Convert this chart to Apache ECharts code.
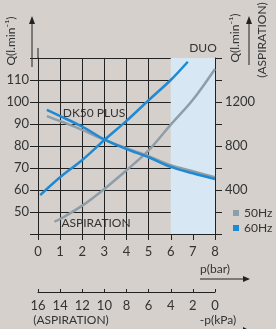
<!DOCTYPE html>
<html>
<head>
<meta charset="utf-8">
<script src="https://cdn.jsdelivr.net/npm/echarts@6/dist/echarts.min.js"></script>
<style>
  html, body { margin: 0; padding: 0; background: #d5d0cc; }
  #chart { width: 276px; height: 329px; }
</style>
</head>
<body>
<div id="chart"></div>
<script>
// p(bar) -> Q(l/min)
var rise60X = [0.1, 1, 2, 3, 4, 5, 6, 6.77];
var rise60Y = [57.7, 65.8, 73.6, 82.7, 91.4, 100.8, 110, 118.3];
var rise50X = [0.74, 1, 2, 3, 4, 5, 6, 7, 8];
var rise50Y = [45.6, 46.8, 52.9, 60.5, 69, 78, 89.7, 101, 115];
var fall60X = [0.4, 1, 2, 3, 4, 5, 6, 7, 8];
var fall60Y = [96.4, 93.6, 88.8, 83, 78.6, 74.9, 70.5, 67.6, 65];
var fall50X = [0.4, 1, 2, 3, 4, 5, 6, 7, 8];
var fall50Y = [93.6, 91.3, 87.3, 82.8, 79, 75.4, 71.3, 68.5, 65.8];

var leftTicks = [50, 60, 70, 80, 90, 100, 110];
var rightTicks = [400, 800, 1200];
var duoBand = [6, 8];

var BG = '#d5d0cc';
var BLUE = '#1f8ad3';
var GREY = '#8e9ea9';
var INK = '#333333';
var LINE = '#222222';
var FONT = 'Lato';

function pairs(xs, ys) {
  var out = [];
  for (var i = 0; i < xs.length; i++) out.push([xs[i], ys[i]]);
  return out;
}

function curve(name, xs, ys, color, z) {
  return {
    name: name,
    type: 'line',
    data: pairs(xs, ys),
    smooth: 0.35,
    symbol: 'none',
    z: z,
    lineStyle: { color: color, width: 2.5 },
    itemStyle: { color: color }
  };
}

function txt(x, y, s, opts) {
  opts = opts || {};
  var st = {
    text: s,
    fill: INK,
    font: (opts.size || 12) + 'px ' + FONT,
    align: opts.align || 'center',
    verticalAlign: 'middle'
  };
  if (opts.bg) {
    st.backgroundColor = BG;
    st.padding = [0, 1];
  }
  return { type: 'text', x: x, y: y, rotation: opts.rot || 0, style: st };
}

function seg(x1, y1, x2, y2) {
  return { type: 'line', shape: { x1: x1, y1: y1, x2: x2, y2: y2 }, style: { stroke: LINE, lineWidth: 1 } };
}

function head(pts) {
  return { type: 'polygon', shape: { points: pts }, style: { fill: LINE } };
}

var chart = echarts.init(document.getElementById('chart'));

var band = curve('band', [], [], BLUE, 1);
band.markArea = {
  silent: true,
  itemStyle: { color: '#d7e7f4' },
  data: [[{ xAxis: duoBand[0], yAxis: 40 }, { xAxis: duoBand[1], yAxis: 120 }]]
};

chart.setOption({
  backgroundColor: BG,
  animation: false,
  grid: { left: 38, top: 58, width: 177, height: 176, show: false },
  xAxis: [{
    type: 'value', min: 0, max: 8, interval: 1,
    axisLine: { show: true, lineStyle: { color: LINE } },
    axisTick: { show: true, length: 6, lineStyle: { color: LINE } },
    axisLabel: { color: INK, fontSize: 13, fontFamily: FONT, margin: 11 },
    splitLine: { show: true, lineStyle: { color: LINE, width: 1 } }
  }, {
    type: 'value', min: 0, max: 16, interval: 2, inverse: true,
    position: 'bottom', offset: 58,
    axisLine: { show: true, onZero: false, lineStyle: { color: LINE } },
    axisTick: { show: true, inside: true, length: 3, lineStyle: { color: LINE } },
    axisLabel: { color: INK, fontSize: 13, fontFamily: FONT, margin: 7 },
    splitLine: { show: false }
  }],
  yAxis: [{
    type: 'value', min: 40, max: 120, interval: 10,
    axisLine: { show: true, lineStyle: { color: LINE } },
    axisTick: { show: true, length: 8, lineStyle: { color: LINE } },
    axisLabel: {
      color: INK, fontSize: 13, fontFamily: FONT, margin: 9,
      formatter: function (v) { return leftTicks.indexOf(v) >= 0 ? String(v) : ''; }
    },
    splitLine: { show: true, lineStyle: { color: LINE, width: 1 } }
  }, {
    type: 'value', min: 0, max: 1600, interval: 200, position: 'right',
    axisLine: { show: true, lineStyle: { color: LINE } },
    axisTick: { show: true, length: 7, lineStyle: { color: LINE } },
    axisLabel: {
      color: INK, fontSize: 13, fontFamily: FONT, margin: 10,
      formatter: function (v) { return rightTicks.indexOf(v) >= 0 ? String(v) : ''; }
    },
    splitLine: { show: false }
  }],
  series: [
    band,
    curve('50Hz aspiration', rise50X, rise50Y, GREY, 3),
    curve('60Hz aspiration', rise60X, rise60Y, BLUE, 4),
    curve('50Hz DK50 PLUS', fall50X, fall50Y, GREY, 3),
    curve('60Hz DK50 PLUS', fall60X, fall60Y, BLUE, 4)
  ],
  graphic: [
    // axis line run-up and titles
    seg(38, 48, 38, 58),
    seg(32, 67, 32, 22), head([[29, 24], [35, 24], [32, 16]]),
    txt(11, 41, 'Q(l.min⁻¹)', { rot: Math.PI / 2, size: 12 }),
    seg(249, 65, 249, 22), head([[246, 24], [252, 24], [249, 16]]),
    txt(235, 38, 'Q(l.min⁻¹)', { rot: Math.PI / 2, size: 12 }),
    txt(262, 40, '(ASPIRATION)', { rot: Math.PI / 2, size: 12 }),
    txt(203, 48, 'DUO', { size: 12 }),
    txt(94, 113, 'DK50 PLUS', { size: 12, bg: true }),
    txt(96, 223, 'ASPIRATION', { size: 12, bg: true }),
    // legend
    { type: 'rect', shape: { x: 233, y: 210, width: 6, height: 6 }, style: { fill: GREY } },
    txt(244, 213, '50Hz', { align: 'left', size: 12 }),
    { type: 'rect', shape: { x: 233, y: 225, width: 6, height: 6 }, style: { fill: BLUE } },
    txt(244, 228, '60Hz', { align: 'left', size: 12 }),
    // lower axis captions
    txt(215, 269, 'p(bar)', { size: 12 }),
    seg(200, 279, 244, 279), head([[243, 276], [243, 282], [250, 279]]),
    txt(71, 320, '(ASPIRATION)', { size: 12 }),
    txt(218, 320, '-p(kPa)', { size: 12 }),
    seg(200, 331, 244, 331), head([[243, 327], [243, 335], [251, 331]])
  ]
});
</script>
</body>
</html>
